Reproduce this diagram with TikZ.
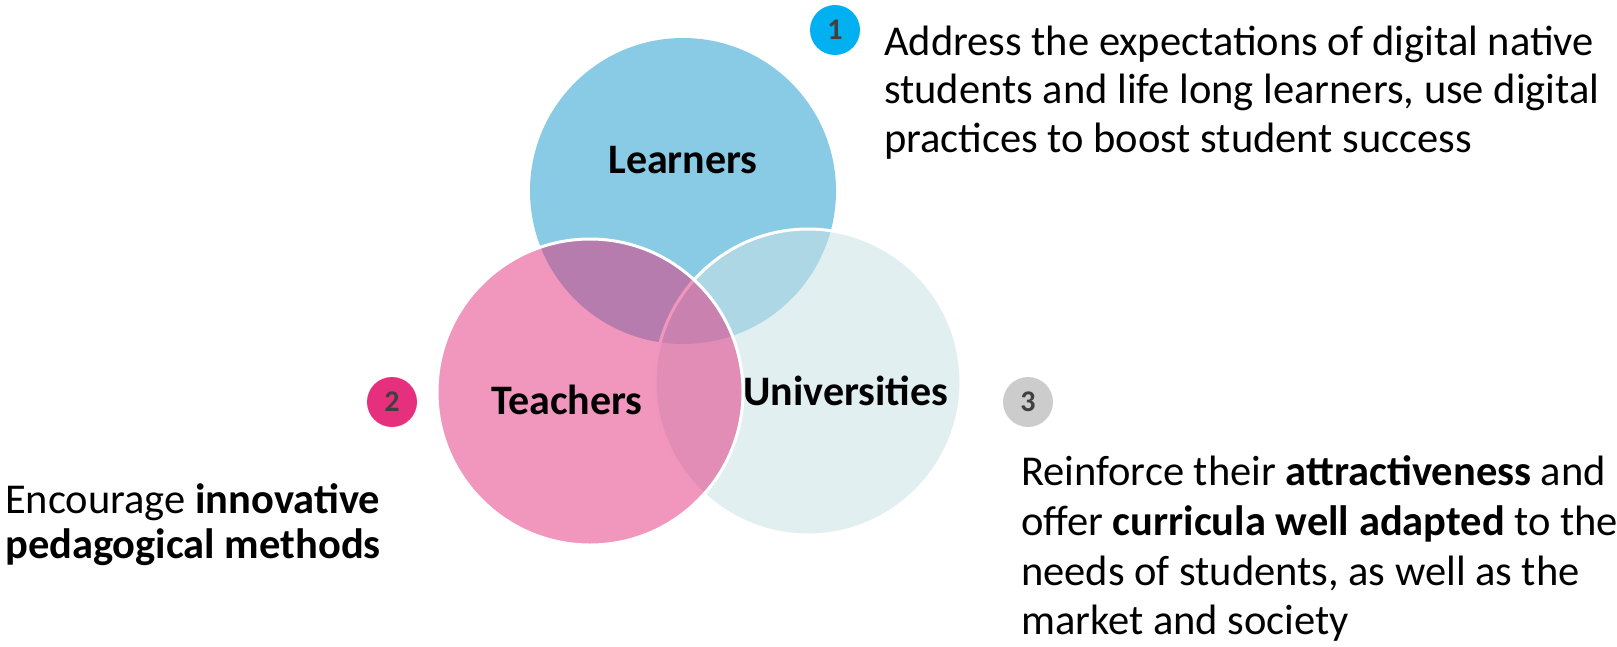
\documentclass[tikz,border=0pt]{standalone}
\usepackage{fontspec}
\setmainfont{Carlito}
\definecolor{learnblue}{RGB}{137,202,228}
\definecolor{univc}{RGB}{203,226,230}
\definecolor{teachc}{RGB}{227,49,124}
\definecolor{badgeblue}{RGB}{0,176,240}
\definecolor{badgepink}{RGB}{230,48,126}
\definecolor{badgegray}{RGB}{204,204,204}
\definecolor{numgray}{RGB}{64,64,64}
\tikzset{
  badge/.style={circle, minimum size=50pt, inner sep=0pt, text=numgray, font=\fontsize{30}{32}\selectfont\bfseries},
  circlabel/.style={inner sep=0pt, font=\fontsize{42}{48}\selectfont\bfseries},
  bodyline/.style={anchor=base west, inner sep=0pt, font=\fontsize{42.5}{49}\selectfont},
  smallline/.style={anchor=base west, inner sep=0pt, font=\fontsize{42.5}{45}\selectfont},
  ring/.style={draw=white, line width=3pt}
}
\begin{document}
\begin{tikzpicture}[x=1pt,y=-1pt]
\useasboundingbox (0,0) rectangle (1617,646);
% circles
\fill[learnblue] (683,191) circle[radius=153pt];
\fill[univc, fill opacity=0.56] (808,382) circle[radius=153pt];
\draw[ring] (808,382) circle[radius=153pt];
\fill[teachc, fill opacity=0.51] (590,392) circle[radius=153pt];
\draw[ring] (590,392) circle[radius=153pt];
% circle labels
\node[circlabel] (lL) at (683,160) {Learners};
\node[circlabel] (lT) at (567,400) {Teachers};
\node[circlabel] (lU) at (846,391) {Universities};
% badges
\node[badge, fill=badgeblue] (b1) at (835,30) {1};
\node[badge, fill=badgepink] (b2) at (392,402) {2};
\node[badge, fill=badgegray] (b3) at (1028,402) {3};
% text 1
\node[bodyline] (t1a) at (884,55) {Address the expectations of digital native};
\node[bodyline] (t1b) at (884,103) {students and life long learners, use digital};
\node[bodyline] (t1c) at (884,152) {practices to boost student success};
% text 2
\node[smallline] (t2a) at (5,513) {Encourage \textbf{innovative}};
\node[smallline] (t2b) at (5,558) {\textbf{pedagogical methods}};
% text 3
\node[bodyline] (t3a) at (1021,485) {Reinforce their \textbf{attractiveness} and};
\node[bodyline] (t3b) at (1021,535) {offer \textbf{curricula well adapted} to the};
\node[bodyline] (t3c) at (1021,585) {needs of students, as well as the};
\node[bodyline] (t3d) at (1021,634) {market and society};
\end{tikzpicture}
\end{document}
